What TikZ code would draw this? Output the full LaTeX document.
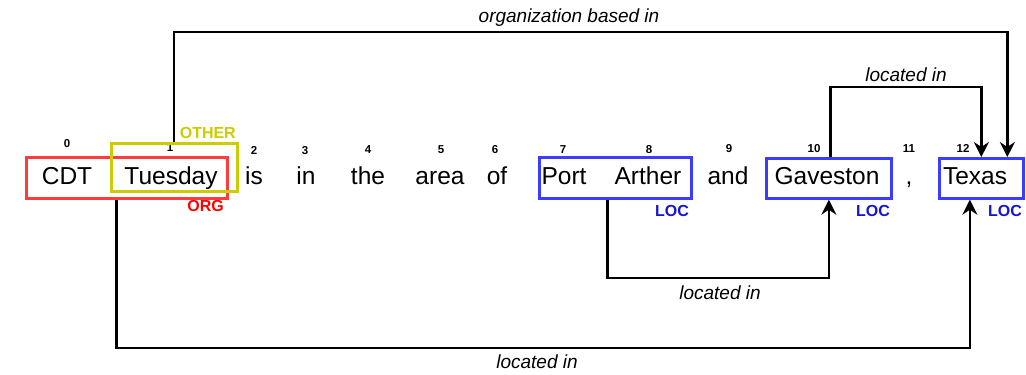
\documentclass[tikz,border=0pt]{standalone}
\usepackage{fontspec}
\setmainfont{Liberation Sans}
\usetikzlibrary{arrows.meta}
\definecolor{orgred}{RGB}{255,60,60}
\definecolor{othery}{RGB}{204,204,0}
\definecolor{locblue}{RGB}{60,60,255}
\definecolor{loctext}{RGB}{20,20,210}
\tikzset{
  word/.style={anchor=base, inner sep=0pt, font=\fontsize{24.5}{28}\selectfont},
  idx/.style={anchor=base, inner sep=0pt, font=\fontsize{11.5}{13}\selectfont\bfseries},
  spanbox/.style={draw, line width=2.7pt, inner sep=0pt, anchor=north west},
  tag/.style={anchor=base east, inner sep=0pt, font=\fontsize{16}{18}\selectfont\bfseries},
  rel/.style={line width=2.7pt, line join=miter},
  relarrow/.style={rel, -{Stealth[length=15pt, width=15pt, inset=5pt]}},
  rellabel/.style={inner sep=0pt, anchor=base, font=\fontsize{19}{22}\selectfont\itshape}
}
\begin{document}
\begin{tikzpicture}[x=1pt, y=-1pt]
\useasboundingbox (0,0) rectangle (1026,375);

% tokens
\node[word] (w0)  at (67,184)  {CDT};
\node[word] (w1)  at (171,184) {Tuesday};
\node[word] (w2)  at (254,184) {is};
\node[word] (w3)  at (306,184) {in};
\node[word] (w4)  at (368,184) {the};
\node[word] (w5)  at (440,184) {area};
\node[word] (w6)  at (497,184) {of};
\node[word] (w7)  at (564,184) {Port};
\node[word] (w8)  at (648,184) {Arther};
\node[word] (w9)  at (728,184) {and};
\node[word] (w10) at (827,184) {Gaveston};
\node[word] (w11) at (909,184) {,};
\node[word] (w12) at (975,184) {Texas};

% token indices
\node[idx] (i0)  at (67,147)  {0};
\node[idx] (i1)  at (170,151) {1};
\node[idx] (i2)  at (254,154) {2};
\node[idx] (i3)  at (305,154) {3};
\node[idx] (i4)  at (368,153) {4};
\node[idx] (i5)  at (441,153) {5};
\node[idx] (i6)  at (495,153) {6};
\node[idx] (i7)  at (563,153) {7};
\node[idx] (i8)  at (649,153) {8};
\node[idx] (i9)  at (729,152) {9};
\node[idx] (i10) at (814,152) {10};
\node[idx] (i11) at (909,152) {11};
\node[idx] (i12) at (963,152) {12};

% entity spans
\node[spanbox, orgred, minimum width=201pt, minimum height=41pt] (org) at (25,156) {};
\node[spanbox, othery, minimum width=126pt, minimum height=48pt] (other) at (110,142) {};
\node[spanbox, locblue, minimum width=152pt, minimum height=41pt] (port) at (538,156) {};
\node[spanbox, locblue, minimum width=125pt, minimum height=40pt] (gav) at (765,157) {};
\node[spanbox, locblue, minimum width=84pt, minimum height=40pt] (tex) at (938,157) {};

% entity types
\node[tag, othery] (tOther) at (236,138) {OTHER};
\node[tag, red]    (tOrg)   at (224,211) {ORG};
\node[tag, loctext] (tLoc1) at (689,216) {LOC};
\node[tag, loctext] (tLoc2) at (890,216) {LOC};
\node[tag, loctext] (tLoc3) at (1022,216) {LOC};

% relations
\coordinate (obS) at ([xshift=-0.5pt]other.north);
\coordinate (obE) at ([xshift=26pt]tex.north);
\draw[relarrow] (obS) -- (obS |- 0,32) -- (obE |- 0,32) -- (obE);
\node[rellabel] (lOb) at (569,22) {organization based in};

\coordinate (gtS) at ([xshift=1.5pt]gav.north);
\draw[relarrow] (gtS) -- (gtS |- 0,87) -- (tex.north |- 0,87) -- (tex.north);
\node[rellabel] (lGt) at (906,81) {located in};

\coordinate (pgS) at ([xshift=-8pt]port.south);
\draw[relarrow] (pgS) -- (pgS |- 0,278) -- (gav.south |- 0,278) -- (gav.south);
\node[rellabel] (lPg) at (720,299) {located in};

\coordinate (otS) at ([xshift=-10.5pt]org.south);
\coordinate (otE) at ([xshift=-11.5pt]tex.south);
\draw[relarrow] (otS) -- (otS |- 0,348) -- (otE |- 0,348) -- (otE);
\node[rellabel] (lOt) at (537,368) {located in};
\end{tikzpicture}
\end{document}
